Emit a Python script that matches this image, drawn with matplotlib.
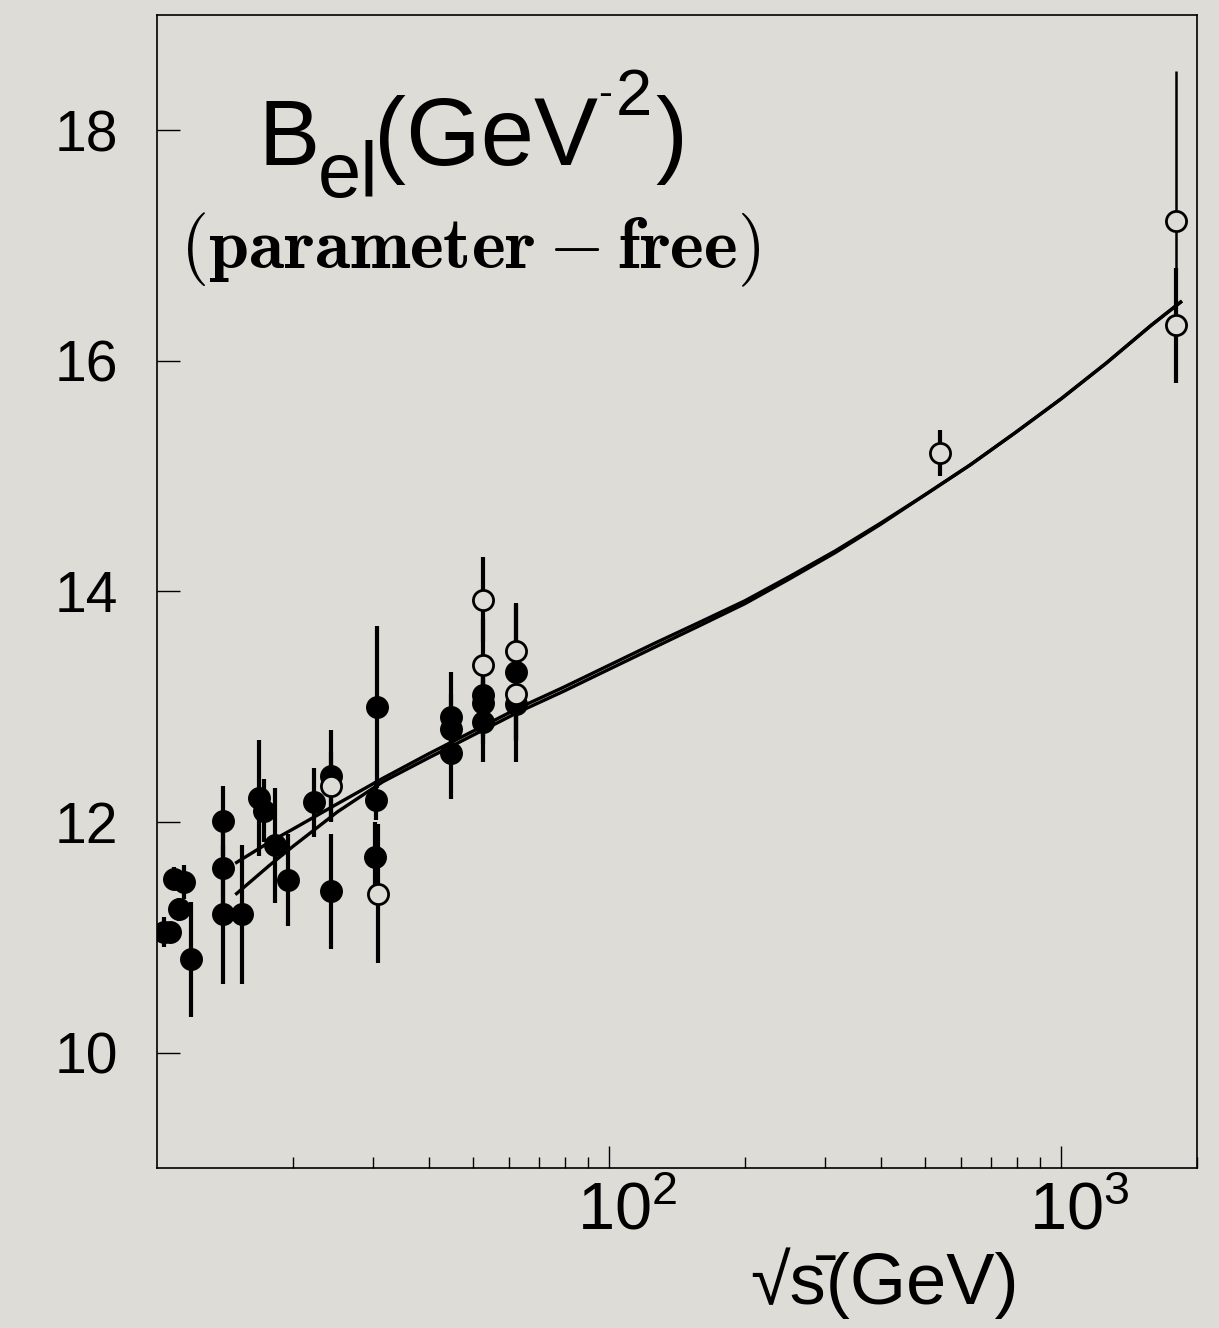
import matplotlib
matplotlib.use("Agg")
import matplotlib.pyplot as plt
from matplotlib.transforms import ScaledTranslation

plt.rcParams['font.family'] = ['Liberation Sans', 'DejaVu Sans']
plt.rcParams['mathtext.fontset'] = 'cm'

# Elastic slope measurements: filled circles
filled_sqrt_s = [10.35, 10.7, 10.9, 11.5, 11.2, 11.9, 14.0, 14.0, 14.0, 15.4,
                 16.8, 17.25, 18.2, 19.5, 22.3, 24.3, 24.3, 30.7, 30.5, 30.4,
                 44.8, 44.8, 44.8, 52.7, 52.7, 52.7, 62.3, 62.3]
filled_b = [11.05, 11.05, 11.51, 11.48, 11.245, 10.81, 12.01, 11.60, 11.20, 11.20,
            12.21, 12.10, 11.80, 11.50, 12.17, 12.40, 11.40, 13.00, 12.19, 11.70,
            12.91, 12.81, 12.60, 13.10, 13.03, 12.87, 13.30, 13.02]
filled_err = [0.13, 0.05, 0.10, 0.15, 0.10, 0.50, 0.30, 0.40, 0.60, 0.60,
              0.50, 0.27, 0.50, 0.40, 0.30, 0.40, 0.50, 0.70, 0.17, 0.30,
              0.39, 0.30, 0.40, 0.35, 0.35, 0.35, 0.60, 0.50]

# Open circles
open_sqrt_s = [24.3, 30.9, 52.7, 52.7, 62.3, 62.3, 539, 1794]
open_b = [12.31, 11.38, 13.93, 13.36, 13.48, 13.11, 15.20, 16.31]
open_err = [0.30, 0.60, 0.37, 0.40, 0.40, 0.40, 0.20, 0.50]

# Open circle with a large uncertainty
wide_sqrt_s = [1794]
wide_b = [17.21]
wide_err = [1.30]

# Model curves
curve_sqrt_s = [15.0, 17.8, 20.0, 25.1, 31.6, 39.8, 50.1, 63.1, 79.4, 100, 126, 158,
                200, 251, 316, 398, 501, 631, 794, 1000, 1259, 1585, 1840]
curve_a = [11.65, 11.83, 11.94, 12.16, 12.38, 12.59, 12.79, 12.99, 13.17, 13.36, 13.55,
           13.73, 13.92, 14.13, 14.35, 14.59, 14.84, 15.10, 15.38, 15.67, 15.98, 16.31,
           16.51]
curve_b = [11.38, 11.63, 11.79, 12.09, 12.35, 12.555, 12.755, 12.955, 13.135, 13.325,
           13.515, 13.70, 13.895, 14.11, 14.335, 14.58, 14.84, 15.10, 15.38, 15.67,
           15.98, 16.31, 16.51]

y_ticks = [10, 12, 14, 16, 18]
x_ticks = [100, 1000]
x_tick_labels = [r'$\mathregular{10^{2}}$', r'$\mathregular{10^{3}}$']

BG = '#dedcd6'
W, H = 1219, 1328

fig = plt.figure(figsize=(W / 100, H / 100), dpi=100, facecolor=BG)
ax = fig.add_axes([157 / W, 1 - 1168 / H, 1040 / W, 1153 / H])
ax.set_facecolor(BG)
ax.set_xscale('log')
ax.set_xlim(10, 2000)
ax.set_ylim(9, 19)

ax.plot(curve_sqrt_s, curve_a, color='black', lw=2.4, zorder=2)
ax.plot(curve_sqrt_s, curve_b, color='black', lw=2.4, zorder=2)

ax.errorbar(filled_sqrt_s, filled_b, yerr=filled_err, fmt='o', color='black',
            ms=15.5, elinewidth=3.0, capsize=0, zorder=3)
ax.errorbar(wide_sqrt_s, wide_b, yerr=wide_err, fmt='none', ecolor='black',
            elinewidth=1.8, capsize=0, zorder=3)
ax.errorbar(open_sqrt_s, open_b, yerr=open_err, fmt='none', ecolor='black',
            elinewidth=3.0, capsize=0, zorder=3)
ax.plot(open_sqrt_s + wide_sqrt_s, open_b + wide_b, 'o', ms=14.5, mfc=BG,
        mec='black', mew=2.0, zorder=4, linestyle='none')

for side in ['top', 'right', 'left', 'bottom']:
    ax.spines[side].set_linewidth(1.2)

ax.set_yticks(y_ticks)
ax.set_yticklabels([str(v) for v in y_ticks])
ax.set_xticks(x_ticks)
ax.set_xticklabels(x_tick_labels)
ax.tick_params(axis='y', which='major', direction='in', length=16.5, width=1.0,
               pad=28, labelsize=41)
ax.tick_params(axis='y', which='minor', left=False)
ax.tick_params(axis='x', which='major', direction='in', length=16, width=1.0,
               pad=10, labelsize=48)
ax.tick_params(axis='x', which='minor', direction='in', length=8, width=1.0)
ax.tick_params(top=False, right=False, which='both')
for lab in ax.get_xticklabels():
    lab.set_transform(lab.get_transform() + ScaledTranslation(0.18, 0, fig.dpi_scale_trans))

ax.set_xlabel('\u221as\u0304(GeV)', fontsize=52)
ax.xaxis.set_label_coords(0.70, -0.069)


def fpos(x, y):
    return x / W, 1 - y / H


# Axis quantity label built from pieces
fig.text(*fpos(258, 165), 'B', fontsize=66, ha='left', va='baseline')
fig.text(*fpos(318, 197), 'el', fontsize=56, ha='left', va='baseline')
fig.text(*fpos(374, 165), '(GeV', fontsize=69, ha='left', va='baseline')
fig.text(*fpos(598, 106), '-', fontsize=30, ha='left', va='baseline')
fig.text(*fpos(616, 115), '2', fontsize=47, ha='left', va='baseline')
fig.text(*fpos(655, 165), ')', fontsize=69, ha='left', va='baseline')

fig.text(*fpos(180, 268), r'$(\mathbf{parameter - free})$', fontsize=52,
         ha='left', va='baseline')

fig.savefig('out.png', dpi=100, facecolor=BG)
